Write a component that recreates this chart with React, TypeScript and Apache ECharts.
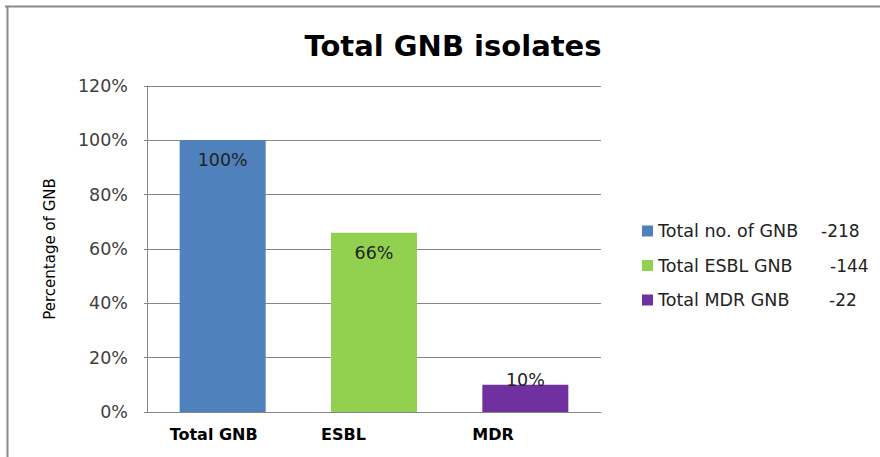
import React, { useEffect, useRef } from "react";
import * as echarts from "echarts";

const categories = ["Total GNB", "ESBL", "MDR"];
const seriesNames = ["Total no. of GNB", "Total ESBL GNB", "Total MDR GNB"];
const percentValues = [100, 66, 10];
const counts = ["-218", "-144", "-22"];
const colors = ["#4F81BD", "#92D050", "#7030A0"];
const yTicks = [0, 20, 40, 60, 80, 100, 120];

const FONT = "'DejaVu Sans', 'Open Sans', sans-serif";

export default function App() {
  const ref = useRef<HTMLDivElement>(null);
  useEffect(() => {
    if (!ref.current) return;
    const chart = echarts.init(ref.current, null, { renderer: "svg" });
    const nameWidths = [163, 172, 171];
    const rich: any = {};
    seriesNames.forEach((_, i) => {
      rich["n" + i] = { width: nameWidths[i], fontSize: 17.5, color: "#222", fontFamily: FONT, lineHeight: 20 };
    });
    rich.c = { fontSize: 17, color: "#222", fontFamily: FONT, lineHeight: 20 };

    const series = seriesNames.map((name, i) => ({
      name,
      type: "bar",
      barWidth: 86,
      barGap: "-100%",
      itemStyle: { color: colors[i] },
      data: categories.map((_, j) => (j === i ? percentValues[i] : "-")),
      label: {
        show: true,
        formatter: "{c}%",
        fontSize: 17.5,
        fontFamily: FONT,
        color: "#222",
        position: i === 2 ? "top" : "insideTop",
        distance: i === 2 ? 0 : 11,
        offset: i === 2 ? [0, 4] : [0, 0],
      },
    }));

    chart.setOption({
      animation: false,
      backgroundColor: "#fff",
      title: {
        text: "Total GNB isolates",
        left: 448,
        top: 26,
        textAlign: "center",
        textStyle: { fontFamily: FONT, fontWeight: "bold", fontSize: 29, color: "#000" },
      },
      grid: { left: 147, right: 279, top: 86, bottom: 45 },
      legend: {
        left: 637,
        top: 216,
        orient: "vertical",
        itemWidth: 11,
        itemHeight: 11,
        itemGap: 14.5,
        icon: "rect",
        data: seriesNames,
        formatter: (name: string) => {
          const i = seriesNames.indexOf(name);
          return `{n${i}|${name}}{c|${counts[i]}}`;
        },
        textStyle: { rich, fontFamily: FONT, fontSize: 17.5, color: "#222", lineHeight: 20 },
      },
      xAxis: {
        type: "category",
        data: categories,
        axisTick: { show: false },
        axisLine: { lineStyle: { color: "#868686", width: 1 } },
        axisLabel: {
          margin: 14,
          formatter: (v: string) => `{a|${v}}`,
          rich: {
            a: { width: 106, align: "left", fontFamily: FONT, fontWeight: "bold", fontSize: 16, color: "#000" },
          },
        },
      },
      yAxis: {
        type: "value",
        min: yTicks[0],
        max: yTicks[yTicks.length - 1],
        interval: 20,
        name: "Percentage of GNB",
        nameLocation: "middle",
        nameGap: 90,
        nameTextStyle: { fontFamily: FONT, fontSize: 15, color: "#000" },
        axisLine: { show: true, lineStyle: { color: "#868686" } },
        axisTick: { show: true, length: 3, lineStyle: { color: "#868686" } },
        splitLine: { lineStyle: { color: "#868686" } },
        axisLabel: {
          formatter: "{value}%",
          margin: 19,
          fontFamily: FONT,
          fontSize: 17.5,
          color: "#404040",
        },
      },
      graphic: [
        { type: "line", shape: { x1: 5, y1: 6.5, x2: 880, y2: 6.5 }, style: { stroke: "#898989", lineWidth: 2 } },
        { type: "line", shape: { x1: 7.5, y1: 6, x2: 7.5, y2: 457 }, style: { stroke: "#898989", lineWidth: 2 } },
      ],
      series,
    });
    return () => chart.dispose();
  }, []);
  return (
    <div
      ref={ref}
      style={{ position: "fixed", left: 0, top: 0, width: 880, height: 457 }}
    />
  );
}
